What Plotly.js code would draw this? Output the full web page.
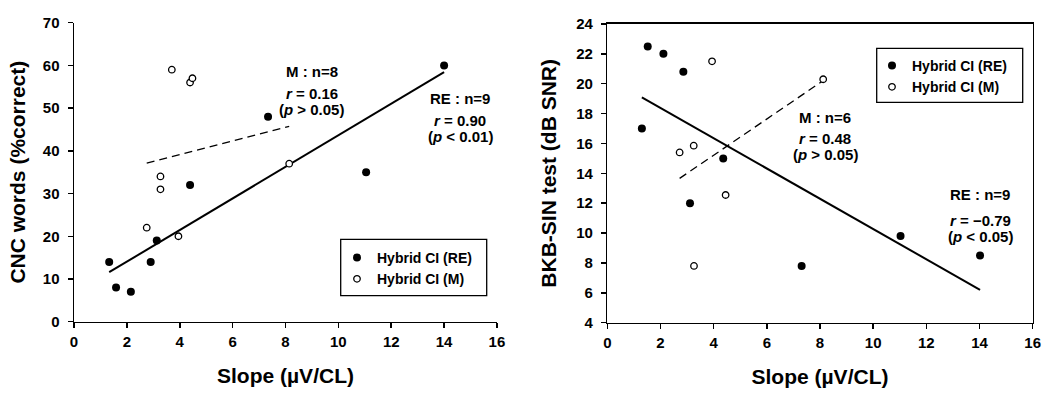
<!DOCTYPE html>
<html>
<head>
<meta charset="utf-8">
<script src="https://cdn.plot.ly/plotly-3.0.1.min.js"></script>
<style>
  html, body { margin: 0; padding: 0; background: #fff; }
  #chart { width: 1050px; height: 402px; }
</style>
</head>
<body>
<div id="chart"></div>
<script>
// CNC words panel (left)
const cncSlopeRE = [1.33, 1.59, 2.15, 2.9, 3.13, 4.39, 7.34, 11.05, 14.0];
const cncScoreRE = [14, 8, 7, 14, 19, 32, 48, 35, 60];
const cncSlopeM = [2.75, 3.27, 3.27, 3.7, 4.39, 4.48, 3.95, 8.14];
const cncScoreM = [22, 34, 31, 59, 56, 57, 20, 37];

// BKB-SIN panel (right)
const bkbSlopeRE = [1.52, 2.11, 2.86, 1.30, 4.36, 3.11, 7.31, 11.03, 14.02];
const bkbSnrRE = [22.5, 22.0, 20.8, 17.0, 15.0, 12.0, 7.8, 9.8, 8.5];
const bkbSlopeM = [3.94, 8.12, 2.72, 3.25, 4.45, 3.26];
const bkbSnrM = [21.5, 20.3, 15.4, 15.85, 12.55, 7.8];

const xTicks = [0, 2, 4, 6, 8, 10, 12, 14, 16];
const cncTicks = [0, 10, 20, 30, 40, 50, 60, 70];
const bkbTicks = [4, 6, 8, 10, 12, 14, 16, 18, 20, 22, 24];
const legendNames = ['Hybrid CI (RE)', 'Hybrid CI (M)'];

// least squares line over the range of x
function fitLine(xs, ys) {
    const n = xs.length;
    const mx = xs.reduce((a, b) => a + b, 0) / n;
    const my = ys.reduce((a, b) => a + b, 0) / n;
    let sxy = 0, sxx = 0;
    for (let i = 0; i < n; i++) {
        sxy += (xs[i] - mx) * (ys[i] - my);
        sxx += (xs[i] - mx) * (xs[i] - mx);
    }
    const b = sxy / sxx;
    const a = my - b * mx;
    const x0 = Math.min(...xs), x1 = Math.max(...xs);
    return { x: [x0, x1], y: [a + b * x0, a + b * x1] };
}

const FONT = 'Liberation Sans, Arial, sans-serif';
const bold = v => '<b>' + v + '</b>';

function lineTrace(fit, xa, ya, dash, width) {
    return {
        x: fit.x, y: fit.y, xaxis: xa, yaxis: ya,
        mode: 'lines', type: 'scatter', showlegend: false, hoverinfo: 'skip',
        line: { color: '#000', width: width, dash: dash }
    };
}

function filled(xs, ys, xa, ya, leg) {
    return {
        x: xs, y: ys, xaxis: xa, yaxis: ya, mode: 'markers', type: 'scatter',
        name: bold(legendNames[0]), legend: leg,
        marker: { color: '#000', size: 8, line: { color: '#000', width: 0 } }
    };
}

function open(xs, ys, xa, ya, leg) {
    return {
        x: xs, y: ys, xaxis: xa, yaxis: ya, mode: 'markers', type: 'scatter',
        name: bold(legendNames[1]), legend: leg,
        marker: { color: '#fff', size: 6.5, line: { color: '#000', width: 1.3 } }
    };
}

const data = [
    lineTrace(fitLine(cncSlopeRE, cncScoreRE), 'x', 'y', 'solid', 2),
    lineTrace(fitLine(cncSlopeM, cncScoreM), 'x', 'y', '8px,5px', 1.3),
    filled(cncSlopeRE, cncScoreRE, 'x', 'y', 'legend'),
    open(cncSlopeM, cncScoreM, 'x', 'y', 'legend'),
    lineTrace(fitLine(bkbSlopeRE, bkbSnrRE), 'x2', 'y2', 'solid', 2),
    lineTrace(fitLine(bkbSlopeM, bkbSnrM), 'x2', 'y2', '8px,5px', 1.3),
    filled(bkbSlopeRE, bkbSnrRE, 'x2', 'y2', 'legend2'),
    open(bkbSlopeM, bkbSnrM, 'x2', 'y2', 'legend2')
];

const tickFont = { family: FONT, size: 15, color: '#000' };
const titleFont = { family: FONT, size: 21, color: '#000' };

function xAxis(domain, anchor, mirror) {
    return {
        domain: domain, anchor: anchor, range: [0, 16],
        tickmode: 'array', tickvals: xTicks, ticktext: xTicks.map(bold),
        showgrid: false, zeroline: false, showline: true, linecolor: '#000', linewidth: 1.5,
        mirror: mirror, ticks: 'outside', ticklen: 5, tickwidth: 1.5, tickcolor: '#000',
        tickfont: tickFont, automargin: false, ticklabelstandoff: 1,
        title: { text: bold('Slope (µV/CL)'), font: titleFont, standoff: 19 }
    };
}

function yAxis(domain, anchor, range, ticks, text, mirror, standoff) {
    return {
        domain: domain, anchor: anchor, range: range,
        tickmode: 'array', tickvals: ticks, ticktext: ticks.map(bold),
        showgrid: false, zeroline: false, showline: true, linecolor: '#000', linewidth: 1.5,
        mirror: mirror, ticks: 'outside', ticklen: 5, tickwidth: 1.5, tickcolor: '#000',
        tickfont: tickFont, automargin: false, ticklabelstandoff: 5,
        title: { text: bold(text), font: titleFont, standoff: standoff }
    };
}

const annFont = { family: FONT, size: 15, color: '#000' };
function note(text, x, y, xr, yr) {
    return { text: bold(text), x: x, y: y, xref: xr, yref: yr, showarrow: false, font: annFont };
}

const layout = {
    width: 1050, height: 402,
    margin: { l: 0, r: 0, t: 0, b: 0 },
    paper_bgcolor: '#fff', plot_bgcolor: '#fff',
    font: { family: FONT, color: '#000' },
    xaxis: xAxis([0.0705, 0.4733], 'y', false),
    yaxis: yAxis([0.1998, 0.9435], 'x', [0, 70], cncTicks, 'CNC words (%correct)', false, 11),
    xaxis2: xAxis([0.5784, 0.9835], 'y2', true),
    yaxis2: yAxis([0.1973, 0.9403], 'x2', [4, 24], bkbTicks, 'BKB-SIN test (dB SNR)', true, 14),
    legend: {
        x: 337 / 1050, y: 1 - 242 / 402, xanchor: 'left', yanchor: 'top',
        bgcolor: 'rgba(0,0,0,0)', borderwidth: 0, itemwidth: 30,
        font: { family: FONT, size: 14, color: '#000' }
    },
    legend2: {
        x: 872 / 1050, y: 1 - 50 / 402, xanchor: 'left', yanchor: 'top',
        bgcolor: 'rgba(0,0,0,0)', borderwidth: 0, itemwidth: 30,
        font: { family: FONT, size: 14, color: '#000' }
    },
    shapes: [
        { type: 'rect', xref: 'paper', yref: 'paper', x0: 340.7 / 1050, x1: 486.7 / 1050,
          y0: 1 - 295.7 / 402, y1: 1 - 239.3 / 402, line: { color: '#000', width: 1.3 } },
        { type: 'rect', xref: 'paper', yref: 'paper', x0: 876.7 / 1050, x1: 1022.7 / 1050,
          y0: 1 - 102.3 / 402, y1: 1 - 48.3 / 402, line: { color: '#000', width: 1.3 } }
    ],
    annotations: [
        note('M : n=8', 9.0, 58.5, 'x', 'y'),
        note('<i>r</i> = 0.16', 9.0, 53.5, 'x', 'y'),
        note('(<i>p</i> &gt; 0.05)', 9.0, 49.6, 'x', 'y'),
        note('RE : n=9', 14.62, 52.2, 'x', 'y'),
        note('<i>r</i> = 0.90', 14.62, 47.0, 'x', 'y'),
        note('(<i>p</i> &lt; 0.01)', 14.62, 43.3, 'x', 'y'),
        note('M : n=6', 8.19, 17.75, 'x2', 'y2'),
        note('<i>r</i> = 0.48', 8.19, 16.34, 'x2', 'y2'),
        note('(<i>p</i> &gt; 0.05)', 8.19, 15.23, 'x2', 'y2'),
        note('RE : n=9', 14.02, 12.55, 'x2', 'y2'),
        note('<i>r</i> = −0.79', 14.02, 10.87, 'x2', 'y2'),
        note('(<i>p</i> &lt; 0.05)', 14.02, 9.75, 'x2', 'y2')
    ]
};

Plotly.newPlot('chart', data, layout, { displayModeBar: false, staticPlot: true });
</script>
</body>
</html>
